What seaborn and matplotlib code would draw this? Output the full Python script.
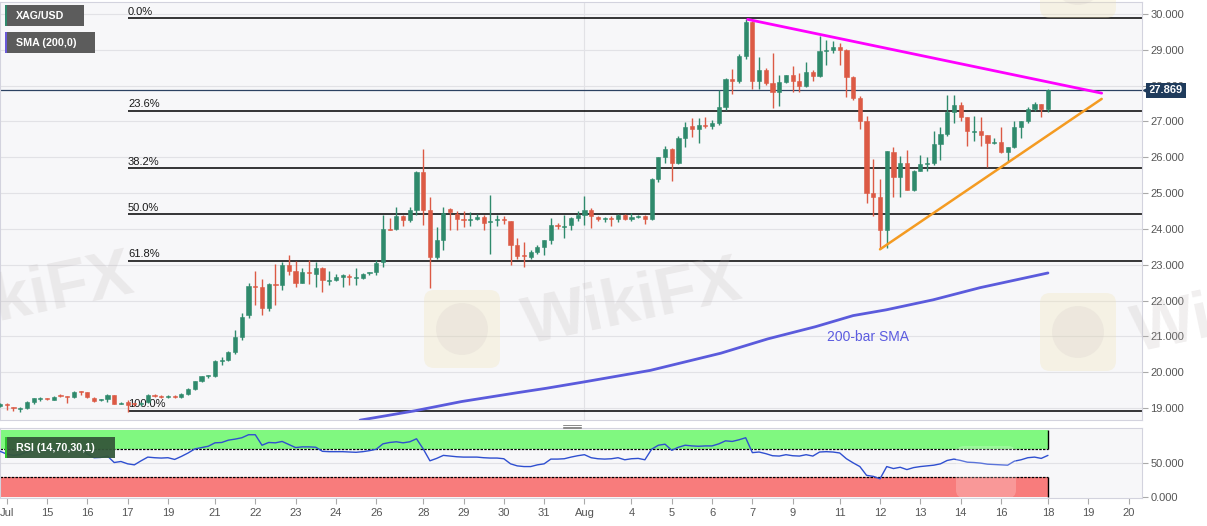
import numpy as np
import pandas as pd
import matplotlib
matplotlib.use("Agg")
import matplotlib.pyplot as plt
import matplotlib.transforms as mtransforms
from matplotlib.patches import Rectangle, FancyBboxPatch, Circle
import seaborn as sns

# ---------------- data (4H candles, bar index 0..156) ----------------
open_ = [19.06, 19.11, 19.02, 18.97, 19.00, 19.16, 19.25, 19.27, 19.23, 19.34,
         19.33, 19.30, 19.46, 19.44, 19.29, 19.21, 19.26, 19.35, 19.12, 19.16,
         19.12, 19.10, 19.16, 19.36, 19.33, 19.31, 19.33, 19.30, 19.39, 19.53,
         19.74, 19.88, 19.88, 20.31, 20.33, 20.55, 20.99, 21.60, 22.40, 22.38,
         21.80, 22.47, 22.43, 23.00, 22.82, 22.50, 22.80, 22.75, 22.92, 22.55,
         22.57, 22.67, 22.68, 22.63, 22.64, 22.76, 22.80, 23.08, 24.00, 24.00,
         24.36, 24.24, 24.52, 25.60, 24.52, 23.22, 23.68, 24.56, 24.42, 24.28,
         24.26, 24.28, 24.33, 24.19, 24.24, 24.27, 24.21, 23.56, 23.26, 23.21,
         23.35, 23.50, 23.68, 24.12, 24.06, 24.10, 24.30, 24.39, 24.54, 24.33,
         24.27, 24.30, 24.27, 24.39, 24.27, 24.33, 24.36, 24.27, 25.40, 26.00,
         26.22, 25.83, 26.53, 26.87, 26.78, 26.90, 26.87, 26.95, 27.41, 28.18,
         28.12, 28.83, 29.79, 28.14, 28.44, 28.06, 27.83, 28.11, 28.30, 28.14,
         27.99, 28.39, 28.28, 28.96, 28.99, 29.07, 29.00, 28.23, 27.65, 27.02,
         25.01, 24.90, 23.97, 26.16, 25.44, 25.83, 25.10, 25.63, 25.81, 25.85,
         26.37, 26.65, 27.27, 27.46, 27.12, 26.71, 26.72, 26.62, 26.39, 26.44,
         26.16, 26.28, 26.84, 27.00, 27.34, 27.50, 27.34]
high_ = [19.13, 19.14, 19.03, 19.04, 19.20, 19.29, 19.30, 19.29, 19.34, 19.38,
         19.34, 19.47, 19.47, 19.45, 19.30, 19.25, 19.39, 19.36, 19.16, 19.23,
         19.14, 19.17, 19.38, 19.38, 19.35, 19.35, 19.35, 19.41, 19.55, 19.75,
         19.90, 19.92, 20.33, 20.43, 20.58, 21.17, 21.65, 22.48, 22.82, 22.61,
         22.50, 23.03, 23.08, 23.26, 23.10, 22.91, 23.12, 23.08, 22.95, 22.82,
         22.75, 22.75, 22.73, 22.90, 22.78, 22.80, 23.12, 24.40, 24.30, 24.61,
         24.40, 24.61, 25.62, 26.23, 24.89, 24.05, 24.60, 24.58, 24.51, 24.51,
         24.47, 24.42, 24.38, 24.96, 24.39, 24.36, 24.23, 23.74, 23.63, 23.40,
         23.54, 23.70, 24.30, 24.16, 24.38, 24.32, 24.51, 24.93, 24.58, 24.36,
         24.33, 24.36, 24.42, 24.41, 24.45, 24.39, 24.38, 25.42, 26.01, 26.31,
         26.25, 26.59, 26.99, 27.11, 27.11, 27.13, 27.04, 27.87, 28.20, 28.46,
         28.89, 29.86, 29.80, 28.81, 28.48, 28.90, 28.30, 28.30, 28.55, 28.36,
         28.67, 28.44, 29.39, 29.27, 29.25, 29.18, 29.02, 28.27, 27.72, 27.15,
         25.94, 25.38, 26.18, 26.28, 26.03, 26.19, 25.65, 26.07, 26.00, 26.74,
         26.84, 27.74, 27.74, 27.53, 27.12, 27.15, 27.12, 26.62, 26.53, 26.84,
         26.28, 27.02, 27.02, 27.40, 27.55, 27.50, 27.90]
low_ = [19.03, 18.95, 18.92, 18.89, 18.98, 19.11, 19.20, 19.22, 19.21, 19.30,
        19.14, 19.28, 19.37, 19.28, 19.18, 19.19, 19.18, 19.10, 19.10, 18.90,
        19.05, 19.06, 19.14, 19.32, 19.29, 19.29, 19.27, 19.29, 19.37, 19.50,
        19.72, 19.85, 19.86, 20.20, 20.30, 20.50, 20.90, 21.50, 21.87, 21.60,
        21.72, 21.87, 22.29, 22.71, 22.38, 22.48, 22.47, 22.38, 22.24, 22.43,
        22.54, 22.38, 22.43, 22.43, 22.60, 22.72, 22.71, 22.94, 23.97, 23.98,
        24.08, 24.19, 24.38, 24.12, 22.34, 23.17, 23.40, 23.96, 23.96, 24.05,
        24.08, 24.24, 23.96, 23.31, 24.08, 24.14, 23.00, 23.17, 22.94, 23.17,
        23.31, 23.26, 23.59, 24.00, 23.74, 23.96, 24.21, 24.10, 24.02, 24.21,
        24.19, 24.07, 24.19, 24.24, 24.21, 24.30, 24.14, 24.25, 25.30, 25.85,
        25.35, 25.81, 26.30, 26.56, 26.40, 26.83, 26.78, 26.90, 27.32, 27.78,
        28.07, 28.73, 27.92, 27.90, 28.02, 27.37, 27.42, 28.08, 27.83, 27.83,
        27.95, 28.14, 28.25, 28.58, 28.92, 28.58, 27.69, 27.60, 26.78, 24.71,
        24.36, 23.43, 23.46, 24.90, 24.90, 25.08, 25.06, 25.61, 25.63, 25.78,
        25.91, 26.60, 26.97, 27.02, 26.32, 26.46, 26.32, 25.72, 26.37, 26.11,
        25.88, 26.25, 26.55, 26.97, 27.30, 27.12, 27.25]
close_ = [19.10, 19.07, 19.00, 18.99, 19.16, 19.27, 19.26, 19.25, 19.32, 19.33,
          19.31, 19.46, 19.44, 19.30, 19.20, 19.23, 19.35, 19.11, 19.14, 19.07,
          19.10, 19.14, 19.35, 19.34, 19.31, 19.33, 19.31, 19.39, 19.53, 19.74,
          19.88, 19.90, 20.31, 20.33, 20.55, 20.99, 21.55, 22.40, 22.37, 21.80,
          22.47, 22.43, 23.00, 22.83, 22.50, 22.80, 22.78, 22.92, 22.57, 22.58,
          22.66, 22.69, 22.65, 22.65, 22.75, 22.78, 23.06, 24.00, 23.98, 24.36,
          24.24, 24.52, 25.60, 24.52, 23.22, 23.68, 24.45, 24.47, 24.28, 24.26,
          24.29, 24.33, 24.17, 24.22, 24.27, 24.25, 23.56, 23.24, 23.24, 23.35,
          23.50, 23.68, 24.12, 24.09, 24.08, 24.30, 24.39, 24.54, 24.36, 24.27,
          24.29, 24.27, 24.39, 24.27, 24.33, 24.36, 24.27, 25.40, 26.00, 26.22,
          25.83, 26.53, 26.85, 26.80, 26.90, 26.87, 26.95, 27.41, 28.18, 28.12,
          28.83, 29.79, 28.14, 28.44, 28.06, 27.83, 28.11, 28.30, 28.14, 27.99,
          28.39, 28.28, 28.98, 29.00, 29.07, 28.99, 28.23, 27.65, 27.02, 25.01,
          24.90, 23.97, 26.18, 25.44, 25.83, 25.10, 25.63, 25.80, 25.85, 26.37,
          26.65, 27.27, 27.46, 27.12, 26.72, 26.74, 26.62, 26.39, 26.44, 26.16,
          26.28, 26.84, 27.00, 27.34, 27.48, 27.34, 27.87]

rsi_values = [67.0, 63.1, 61.1, 62.1, 66.0, 69.5, 70.0, 69.0, 70.0, 70.0,
              68.5, 72.5, 71.0, 63.1, 57.7, 58.1, 60.1, 50.7, 52.2, 48.8,
              47.3, 53.2, 58.6, 57.7, 57.2, 57.7, 55.2, 59.6, 64.6, 70.5,
              72.5, 74.4, 79.4, 79.9, 83.3, 84.8, 86.8, 91.2, 91.2, 75.9,
              79.9, 79.4, 81.4, 76.9, 72.5, 73.5, 73.5, 73.0, 67.0, 66.5,
              66.5, 66.5, 66.0, 65.6, 66.5, 68.0, 70.0, 77.9, 79.9, 80.9,
              79.4, 80.9, 85.3, 70.5, 53.2, 56.7, 61.1, 60.1, 59.1, 58.6,
              58.6, 58.6, 57.7, 57.2, 57.2, 56.2, 48.8, 45.8, 44.8, 44.8,
              47.3, 48.8, 55.7, 55.7, 56.2, 58.6, 60.6, 62.1, 57.7, 56.2,
              55.7, 56.2, 57.7, 54.7, 56.2, 56.7, 54.7, 70.0, 75.9, 77.4,
              68.5, 73.0, 75.9, 74.9, 74.4, 74.9, 74.9, 77.9, 82.3, 81.4,
              83.8, 86.8, 65.1, 66.0, 63.6, 60.6, 60.1, 62.1, 60.6, 60.1,
              62.1, 60.1, 66.0, 66.5, 66.0, 64.6, 56.2, 50.2, 44.8, 32.0,
              30.5, 27.0, 44.8, 41.9, 43.8, 40.4, 43.3, 44.8, 45.8, 46.8,
              48.8, 53.7, 55.7, 53.7, 51.2, 50.7, 49.8, 48.3, 47.8, 47.3,
              46.8, 52.7, 54.7, 57.7, 58.6, 56.7, 61.1]

# 200-bar SMA read at these bar indices
sma_idx = [53.6, 61.7, 68.7, 77.1, 81.3, 87.0, 96.8, 107.3, 114.3, 121.4,
           127.0, 131.9, 138.9, 145.9, 156.0]
sma_val = [18.66, 18.92, 19.18, 19.43, 19.55, 19.73, 20.05, 20.53, 20.93, 21.27,
           21.58, 21.74, 22.02, 22.36, 22.77]

# Fibonacci retracement swing
fib_high = 29.88
fib_low = 18.93
fib_ratios = [0.0, 0.236, 0.382, 0.5, 0.618, 1.0]
fib_labels = ["0.0%", "23.6%", "38.2%", "50.0%", "61.8%", "100.0%"]
fib_start = 19.0

# trend lines (bar index, price)
res_x = [111.3, 164.0]
res_y = [29.85, 27.79]
sup_x = [131.0, 164.0]
sup_y = [23.43, 27.63]

last_price = 27.869

xtick_pos = [1, 7, 13, 19, 25, 32, 38, 44, 50, 56, 63, 69, 75, 81, 87,
             94, 100, 106, 112, 118, 125, 131, 137, 143, 149, 156, 162, 168]
xtick_lab = ["Jul", "15", "16", "17", "19", "21", "22", "23", "24", "26", "28", "29",
             "30", "31", "Aug", "4", "5", "6", "7", "9", "11", "12", "13", "14",
             "16", "18", "19", "20"]
price_ticks = list(range(19, 31))
rsi_ticks = [0, 50]

# ---------------- style ----------------
sns.set_theme(style="white")
plt.rcParams["font.family"] = ["Liberation Sans", "DejaVu Sans"]

GREEN = "#2f8a6c"
RED = "#dc5a45"
BG = "#f7f7f9"
GRID = "#e2e2e6"
SPINE = "#d3d3de"
TXT = "#555555"

W, H = 1207, 526
fig = plt.figure(figsize=(W / 100, H / 100), dpi=100)
fig.patch.set_facecolor("white")

def frac(x0, y0, x1, y1):
    return [x0 / W, 1 - y1 / H, (x1 - x0) / W, (y1 - y0) / H]

ax = fig.add_axes(frac(0, 2, 1142, 420))
ax2 = fig.add_axes(frac(0, 428, 1142, 498))
for a in (ax, ax2):
    a.set_facecolor(BG)
    for s in a.spines.values():
        s.set_color(SPINE)
        s.set_linewidth(0.8)

df = pd.DataFrame({"i": np.arange(len(open_)), "open": open_, "high": high_,
                   "low": low_, "close": close_, "rsi": rsi_values})
up = df["close"] >= df["open"]
cols = np.where(up, GREEN, RED)

ax.set_xlim(0, 170)
ax.set_ylim(18.665, 30.335)
ax.set_yticks(price_ticks)
ax.set_yticklabels([f"{v:.3f}" for v in price_ticks])
ax.yaxis.tick_right()
ax.tick_params(axis="y", right=True, left=False, length=4, width=0.8, color="#aaaaaa",
               labelcolor=TXT, labelsize=8, pad=2)
ax.set_xticks([])
for v in price_ticks:
    ax.axhline(v, color=GRID, lw=0.8, zorder=0)
ax.axvline(87, color=GRID, lw=0.8, zorder=0)

# Fibonacci lines and labels
for r, lab in zip(fib_ratios, fib_labels):
    lvl = fib_high - r * (fib_high - fib_low)
    ax.hlines(lvl, fib_start, 170, color="black", lw=1.1, zorder=1)
    ax.text(fib_start + 0.05, lvl + 0.04, lab, fontsize=8, color="#1a1a1a",
            ha="left", va="bottom", zorder=1)

# SMA
sns.lineplot(x=sma_idx, y=sma_val, ax=ax, color="#5b5bdc", lw=2, zorder=2,
             legend=False, sort=True)
ax.text(123.1, 20.98, "200-bar SMA", color="#5c5ce0", fontsize=10, ha="left",
        va="center", zorder=2)

# current price line
ax.axhline(last_price, color="#2c4262", lw=0.9, zorder=2)

# candles
ax.vlines(df["i"], df["low"], df["high"], color=cols, lw=1, zorder=3)
body = np.maximum((df["close"] - df["open"]).abs(), 0.03)
ax.bar(df["i"], body, bottom=np.minimum(df["open"], df["close"]), width=0.62,
       color=cols, edgecolor=cols, linewidth=0.4, zorder=4)

# trend lines
sns.lineplot(x=res_x, y=res_y, ax=ax, color="#ff00ff", lw=2, zorder=5, legend=False)
sns.lineplot(x=sup_x, y=sup_y, ax=ax, color="#f49b22", lw=1.8, zorder=5, legend=False)
ax.set_xlabel("")
ax.set_ylabel("")

# price tag
bt = mtransforms.blended_transform_factory(fig.transFigure, ax.transData)
ax.text(1166 / W, last_price, f"{last_price:.3f}", transform=bt, ha="center",
        va="center", color="white", fontsize=8, fontweight="bold", zorder=10,
        clip_on=False,
        bbox=dict(boxstyle="square,pad=0.25", fc="#1f3b5c", ec="none"))
bt2 = mtransforms.blended_transform_factory(ax.transAxes, ax.transData)
ax.plot([1.0035], [last_price], marker="<", color="#1f3b5c", markersize=5,
        transform=bt2, clip_on=False, zorder=10)

# ---------------- RSI panel ----------------
ax2.set_xlim(0, 170)
ax2.set_ylim(-1, 101)
ax2.fill_between([0, 156], 70, 98.5, color="#80f880", lw=0, zorder=1)
ax2.fill_between([0, 156], 0, 30, color="#f87c7c", lw=0, zorder=1)
ax2.hlines([70, 30], 0, 156, color="black", lw=0.9, ls=(0, (2, 1)), zorder=2)
ax2.vlines(156, 70, 98.5, color="black", lw=1, zorder=2)
ax2.vlines(156, 0, 30, color="black", lw=1, zorder=2)
ax2.axhline(50, color=GRID, lw=0.8, zorder=0)
sns.lineplot(data=df, x="i", y="rsi", ax=ax2, color="#2f4fd0", lw=1, zorder=3,
             legend=False)
ax2.set_xlabel("")
ax2.set_ylabel("")
ax2.set_yticks(rsi_ticks)
ax2.set_yticklabels([f"{v:.3f}" for v in rsi_ticks])
ax2.yaxis.tick_right()
ax2.tick_params(axis="y", right=True, left=False, length=4, width=0.8, color="#aaaaaa",
                labelcolor=TXT, labelsize=8, pad=2)
ax2.set_xticks(xtick_pos)
ax2.set_xticklabels(xtick_lab)
ax2.tick_params(axis="x", bottom=True, length=4, width=0.8, color="#aaaaaa",
                labelcolor=TXT, labelsize=8, pad=3)

# ---------------- overlay decorations (pixel coordinates) ----------------
ov = fig.add_axes([0, 0, 1, 1], zorder=20)
ov.set_xlim(0, W)
ov.set_ylim(H, 0)
ov.axis("off")
ov.patch.set_alpha(0)

# watermarks
for cx, cy in [(25, 298), (633, 304), (1242, 312)]:
    ov.text(cx, cy, "WikiFX", fontsize=48, fontweight="bold", color="#b9b0b0",
            alpha=0.2, rotation=12, ha="center", va="center", clip_on=False)
for x0, y0 in [(424, 290), (1040, 293), (1040, -60)]:
    ov.add_patch(FancyBboxPatch((x0, y0), 76, 78, boxstyle="round,pad=0,rounding_size=10",
                                fc="#f1e3b0", ec="none", alpha=0.28))
    ov.add_patch(Circle((x0 + 38, y0 + 39), 26, fc="#c9bfbf", ec="none", alpha=0.18))
ov.add_patch(FancyBboxPatch((956, 446), 60, 52, boxstyle="round,pad=0,rounding_size=8",
                            fc="white", ec="none", alpha=0.22))

# legend boxes
ov.add_patch(Rectangle((5, 5), 79, 21, fc="#5c5c5c", ec="none"))
ov.add_patch(Rectangle((5, 5), 2.2, 21, fc="#2f8a6c", ec="none"))
ov.text(16, 15.8, "XAG/USD", color="white", fontsize=7.7, fontweight="bold",
        ha="left", va="center")
ov.add_patch(Rectangle((5, 32), 90, 21, fc="#5c5c5c", ec="none"))
ov.add_patch(Rectangle((5, 32), 2.2, 21, fc="#6a5ad8", ec="none"))
ov.text(16, 42.8, "SMA (200,0)", color="white", fontsize=7.7, fontweight="bold",
        ha="left", va="center")
ov.add_patch(Rectangle((5, 437), 110, 21, fc="#34583a", ec="none", alpha=0.95))
ov.add_patch(Rectangle((5, 437), 2.2, 21, fc="#2fc42f", ec="none"))
ov.text(16, 447.8, "RSI (14,70,30,1)", color="white", fontsize=7.7, fontweight="bold",
        ha="left", va="center")

# panel resize handle
for yy in (424.8, 426.6, 428.4):
    ov.plot([563, 581], [yy, yy], color="#8a8a8a", lw=0.7)

fig.savefig("out.png", dpi=100, facecolor=fig.get_facecolor())
